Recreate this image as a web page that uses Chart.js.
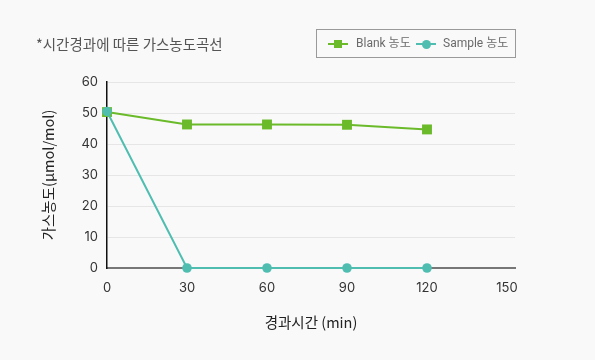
<!DOCTYPE html>
<html><head><meta charset="utf-8">
<script src="https://cdn.jsdelivr.net/npm/chart.js@4"></script>
<style>
html,body{margin:0;padding:0;background:#f9f9f9;}
#wrap{position:relative;width:595px;height:360px;font-family:'Roboto','Noto Sans CJK KR',sans-serif;}
#c{position:absolute;left:0;top:0;}
#title{position:absolute;left:36px;top:33px;font-size:14.5px;color:#555;font-family:'Noto Sans CJK KR',sans-serif;}
#legend{position:absolute;left:316px;top:29px;width:198px;height:27px;border:1px solid #9a9a9a;box-sizing:content-box;}
.item{position:absolute;top:0;height:27px;line-height:27px;font-size:12px;color:#6a6a6a;}
.ln{position:absolute;top:13px;width:20px;height:1.5px;}
.mk{position:absolute;}
.tx{position:absolute;white-space:nowrap;font-family:'Roboto','Noto Sans CJK KR',sans-serif;}
</style></head>
<body><div id="wrap">
<canvas id="c" width="595" height="360"></canvas>
<div id="title">*시간경과에 따른 가스농도곡선</div>
<div id="legend"></div>
</div>
<script>
const timeMin = [0, 30, 60, 90, 120];
const blankValues = [50.3, 46.3, 46.3, 46.2, 44.7];
const sampleValues = [50.5, 0, 0, 0, 0];
const seriesNames = ['Blank 농도', 'Sample 농도'];
const xTicks = [0, 30, 60, 90, 120, 150];
const yTicks = [0, 10, 20, 30, 40, 50, 60];
const xTitle = '경과시간 (min)';
const yTitle = '가스농도(μmol/mol)';

const green = '#6aba2a', teal = '#4fbeb1';

// HTML legend
const lg = document.getElementById('legend');
lg.innerHTML =
 '<div class="ln" style="left:11px;background:'+green+'"></div>'+
 '<div class="mk" style="left:17px;top:10px;width:8px;height:8px;background:'+green+'"></div>'+
 '<div class="item tx" style="left:39px">'+seriesNames[0]+'</div>'+
 '<div class="ln" style="left:99px;background:'+teal+'"></div>'+
 '<div class="mk" style="left:105px;top:9.5px;width:9px;height:9px;border-radius:50%;background:'+teal+'"></div>'+
 '<div class="item tx" style="left:126px">'+seriesNames[1]+'</div>';

const fontFam = "'Inter','Roboto','Noto Sans CJK KR',sans-serif";
new Chart(document.getElementById('c'), {
  type: 'line',
  data: {
    datasets: [
      { label: seriesNames[0], data: timeMin.map((t,i)=>({x:t,y:blankValues[i]})),
        borderColor: green, backgroundColor: green, borderWidth: 2,
        pointStyle: 'rect', pointRadius: 7, pointHoverRadius: 7, pointBorderWidth: 0, order: 1, clip: false },
      { label: seriesNames[1], data: timeMin.map((t,i)=>({x:t,y:sampleValues[i]})),
        borderColor: teal, backgroundColor: teal, borderWidth: 2,
        pointStyle: 'circle', pointRadius: 4.8, pointHoverRadius: 4.8, pointBorderWidth: 0, order: 0, clip: false }
    ]
  },
  options: {
    responsive: false, animation: false, devicePixelRatio: 1,
    layout: { padding: { top: 82, right: 80, left: 0, bottom: 0 } },
    plugins: { legend: { display: false }, tooltip: { enabled: false } },
    scales: {
      x: {
        type: 'linear', min: 0, max: 153,
        afterBuildTicks: s => { s.ticks = xTicks.map(v => ({ value: v })); },
        afterFit: s => { s.height = 92; },
        grid: { display: false, drawTicks: false },
        border: { display: true, color: '#777', width: 2 },
        ticks: { padding: 12, color: '#333', font: { family: fontFam, size: 13 }, maxRotation: 0 },
        title: { display: true, text: xTitle, color: '#222', font: { family: "'Noto Sans CJK KR',sans-serif", size: 14.5 }, padding: { top: 0, bottom: 29 } }
      },
      y: {
        min: 0, max: 60,
        afterBuildTicks: s => { s.ticks = yTicks.map(v => ({ value: v })); },
        afterFit: s => { s.width = 107; },
        grid: { color: '#e6e6e6', lineWidth: 1, drawTicks: false },
        border: { display: true, color: '#111', width: 1.5 },
        ticks: { padding: 9, color: '#333', font: { family: fontFam, size: 13 } },
        title: { display: true, text: yTitle, color: '#222', font: { family: "'Noto Sans CJK KR',sans-serif", size: 14.5 }, padding: { top: 40, bottom: 0 } }
      }
    }
  }
});
</script>
</body></html>
